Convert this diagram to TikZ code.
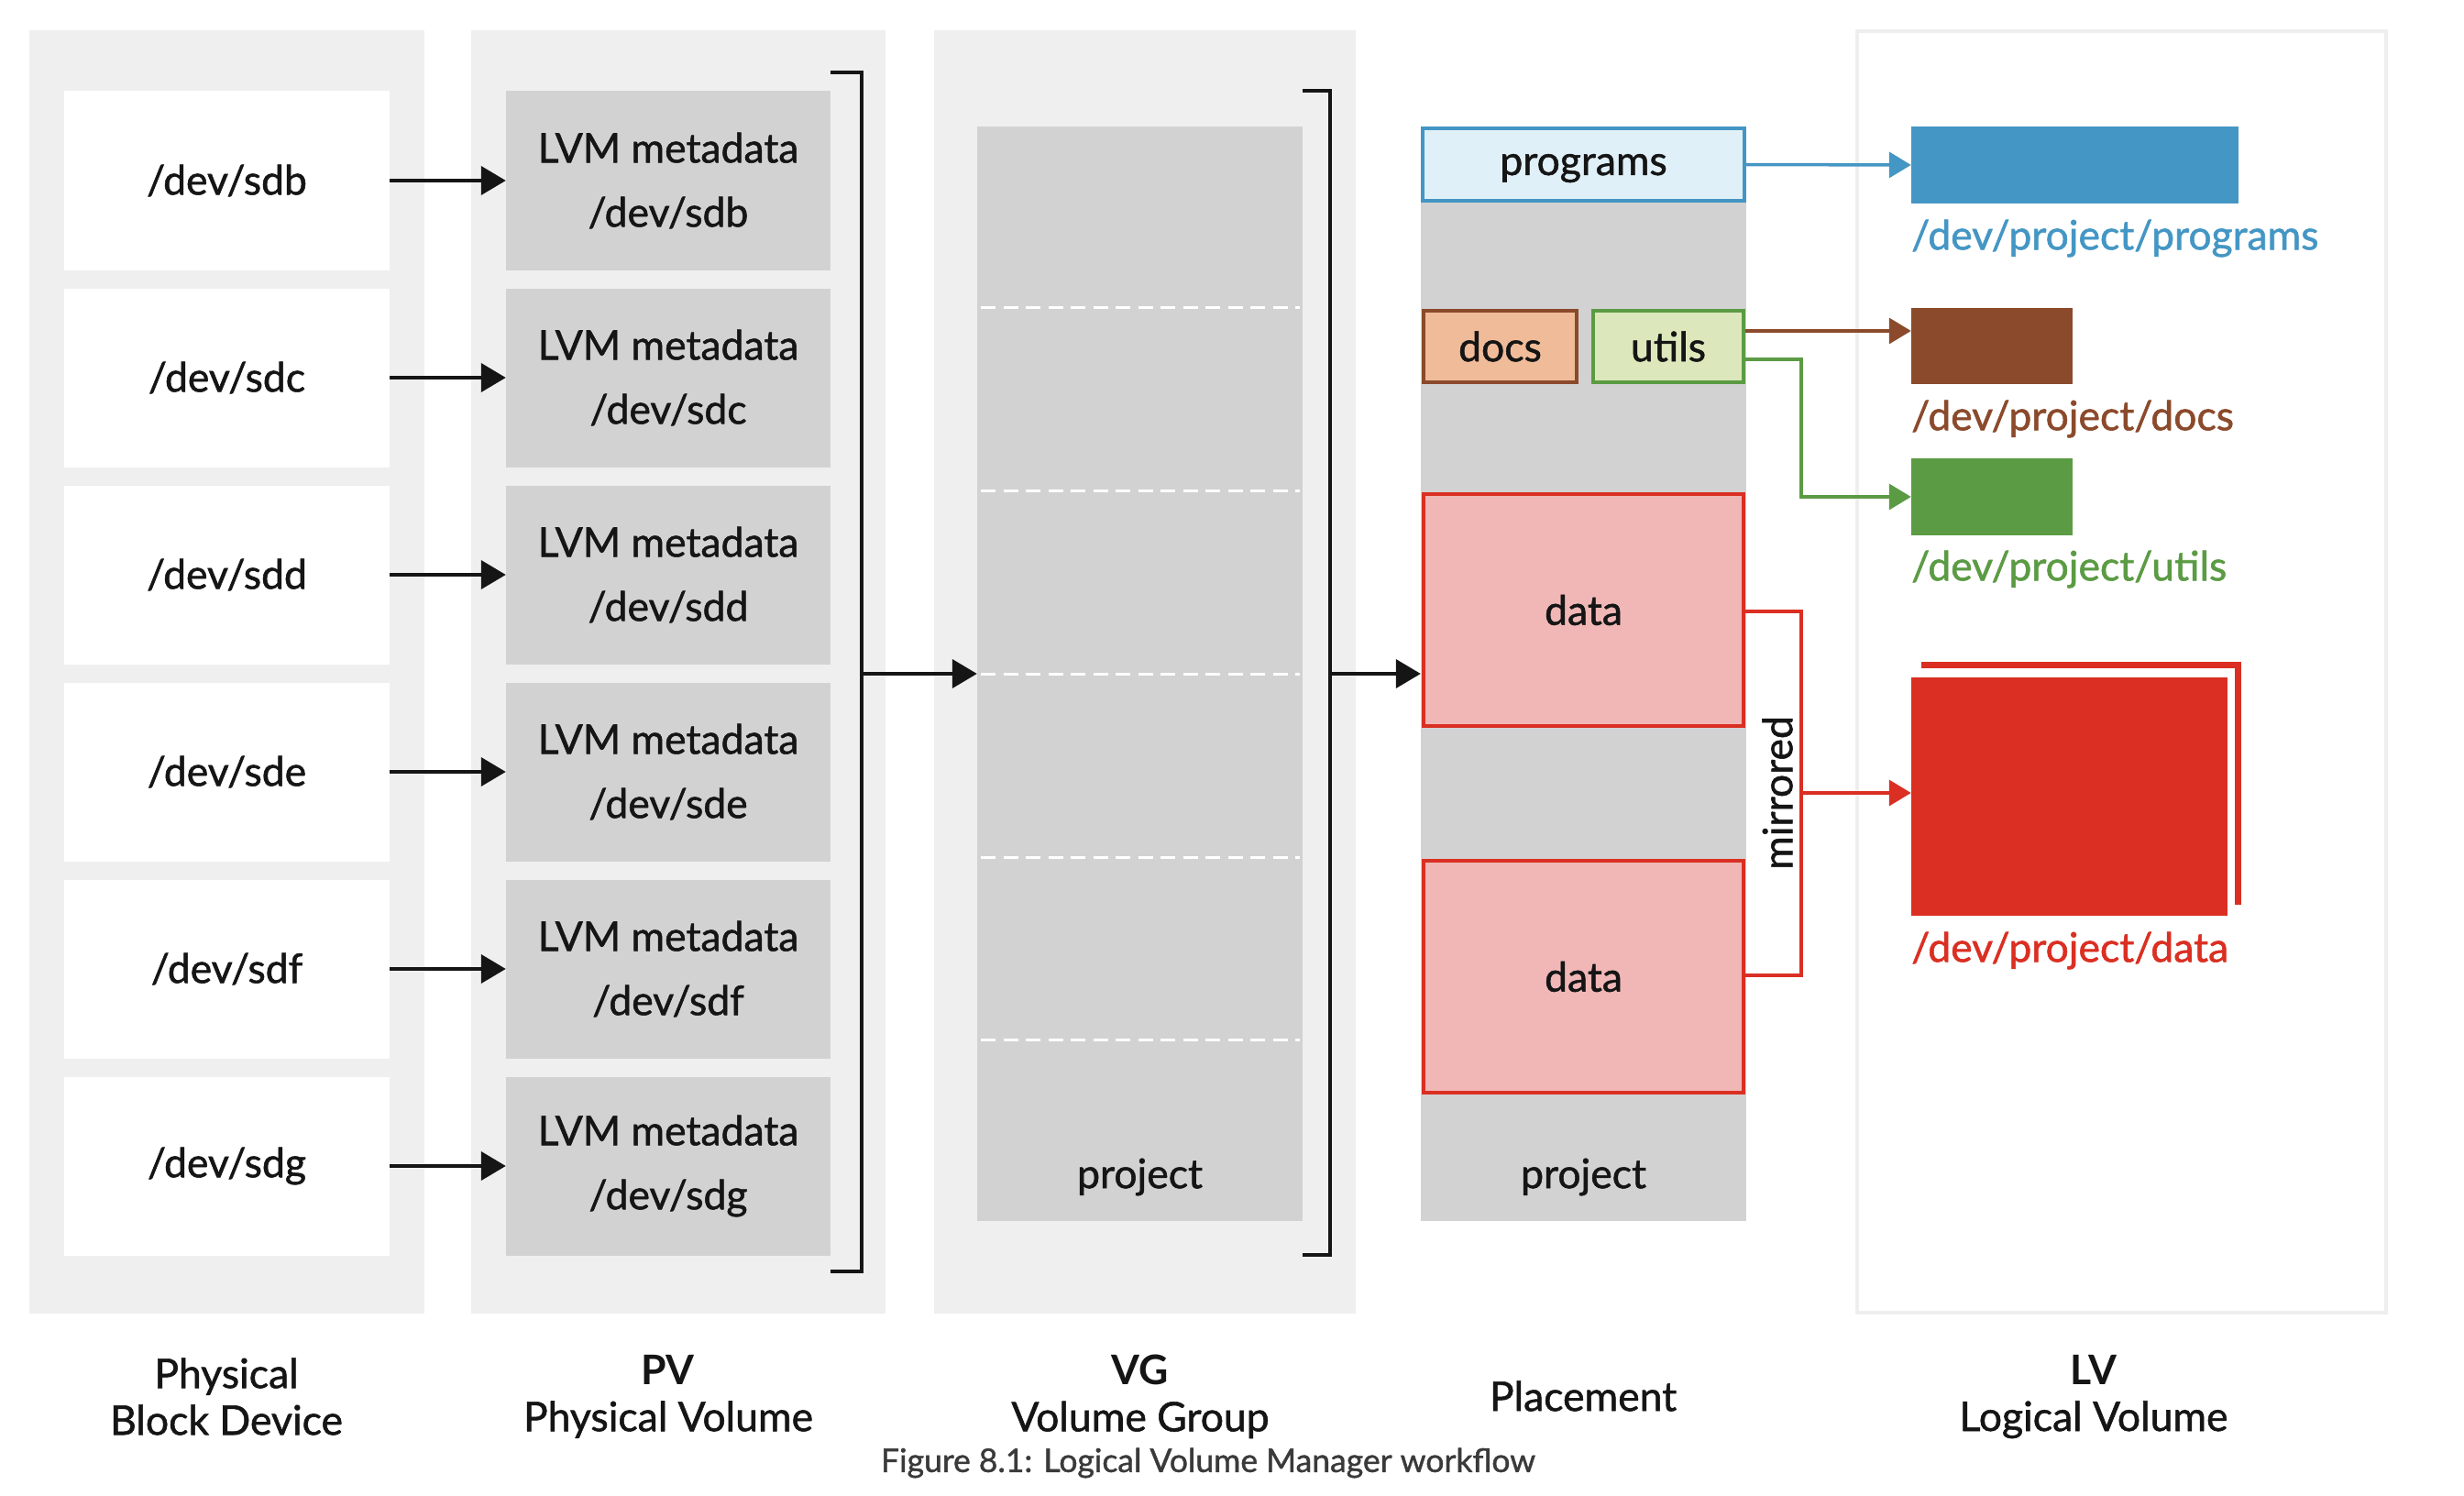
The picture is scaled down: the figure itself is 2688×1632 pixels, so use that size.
\documentclass[tikz,border=0pt]{standalone}
\usepackage{fontspec}
\setmainfont{Lato}[UprightFeatures={FakeBold=1.2}]
\usetikzlibrary{arrows.meta}
\definecolor{ink}{HTML}{151515}
\definecolor{bgcol}{HTML}{EFEFEF}
\definecolor{boxgray}{HTML}{D2D2D2}
\definecolor{progblue}{HTML}{4496C4}
\definecolor{progfill}{HTML}{E0F0F8}
\definecolor{docsbrown}{HTML}{8B4A2B}
\definecolor{docsfill}{HTML}{F0BB98}
\definecolor{utilsgreen}{HTML}{5B9B44}
\definecolor{utilsfill}{HTML}{DCE8BB}
\definecolor{datared}{HTML}{DA2F22}
\definecolor{datafill}{HTML}{F0B7B6}
\definecolor{lvborder}{HTML}{EEEEEE}
\definecolor{capgray}{HTML}{3A3A3A}
\newcommand\mainsz{\fontsize{44.5pt}{70pt}\selectfont}
\newcommand\labsz{\fontsize{44.5pt}{51pt}\selectfont}
\newcommand\capsz{\fontsize{35.5pt}{40pt}\selectfont}
\begin{document}
\begin{tikzpicture}[x=1pt,y=-1pt,
  panel/.style={fill=bgcol,draw=none,inner sep=0pt,minimum width=#1,minimum height=1400pt},
  devbox/.style={fill=white,draw=none,inner sep=0pt,minimum width=355pt,minimum height=195pt,font=\mainsz,text=ink},
  pvbox/.style={fill=boxgray,draw=none,inner sep=0pt,minimum width=354pt,minimum height=195pt,font=\mainsz,text=ink,align=center},
  column/.style={fill=boxgray,draw=none,inner sep=0pt,minimum width=355pt,minimum height=1194pt},
  conn/.style={line width=4pt,draw=ink,-{Triangle[length=27pt,width=31pt]}},
  bracketline/.style={line width=4pt,draw=ink},
  vgdash/.style={line width=3pt,draw=white,dash pattern=on 16pt off 8.5pt},
  lvpart/.style={line width=4pt,inner sep=0pt,font=\mainsz,text=ink},
  cconn/.style={line width=3.5pt,draw=#1,-{Triangle[length=24pt,width=28pt]}},
  cline/.style={line width=3.5pt,draw=#1},
  lvrect/.style={fill=#1,draw=none,inner sep=0pt},
  lvlabel/.style={anchor=west,inner sep=0pt,font=\mainsz,text=#1},
  collabel/.style={font=\labsz,text=ink,align=center,inner sep=0pt}
]
\useasboundingbox (0,0) rectangle (2688,1632);
\fill[white] (0,0) rectangle (2688,1632);

% panels
\node[panel=431pt] (pbd) at (247.5,733) {};
\node[panel=452pt] (ppv) at (740,733) {};
\node[panel=460pt] (pvg) at (1249,733) {};
\node[fill=white,draw=lvborder,line width=4pt,inner sep=0pt,minimum width=577pt,minimum height=1398pt] (plv) at (2314.5,733) {};

% block devices and PVs
\foreach \n/\d [count=\i from 0] in {b/sdb,c/sdc,d/sdd,e/sde,f/sdf,g/sdg}{
  \node[devbox] (bd\n) at (247.5,197+215*\i) {/dev/\d};
  \node[pvbox] (pv\n) at (729,197+215*\i) {LVM metadata\\/dev/\d};
  \draw[conn] (bd\n.east) -- (pv\n.west);
}

% PV bracket
\draw[bracketline] (906,79) -- (940,79) -- (940,1387) -- (906,1387);
\coordinate (pvbr) at (940,735);

% VG column
\node[column] (vg) at (1243.5,735) {};
\foreach \yy in {335,535,735,935,1134}{
  \draw[vgdash] (1070,\yy) -- (1418,\yy);
}
\node[font=\mainsz,text=ink] (vgproj) at (1243.5,1284) {project};
\draw[conn] (pvbr) -- (vg.west);

% VG bracket
\draw[bracketline] (1421,99) -- (1451,99) -- (1451,1369) -- (1421,1369);
\coordinate (vgbr) at (1451,735);

% Placement column
\node[column] (pl) at (1727.5,735) {};
\draw[conn] (vgbr) -- (pl.west);
\node[lvpart,fill=progfill,draw=progblue,minimum width=351pt,minimum height=79pt,text depth=0pt] (prog) at (1727.5,179.5) {programs};
\node[lvpart,fill=docsfill,draw=docsbrown,minimum width=167pt,minimum height=78pt] (docs) at (1636.5,378) {docs};
\node[lvpart,fill=utilsfill,draw=utilsgreen,minimum width=164pt,minimum height=78pt] (utils) at (1820,378) {utils};
\node[lvpart,fill=datafill,draw=datared,minimum width=349pt,minimum height=253pt] (data1) at (1727.5,665.5) {data};
\node[lvpart,fill=datafill,draw=datared,minimum width=349pt,minimum height=253pt] (data2) at (1727.5,1065.5) {data};
\node[font=\mainsz,text=ink] (plproj) at (1727.5,1284) {project};

% LV rectangles
\node[lvrect=progblue,minimum width=357pt,minimum height=84pt] (lvprog) at (2263.5,180) {};
\node[lvrect=docsbrown,minimum width=176pt,minimum height=83pt] (lvdocs) at (2173,377.5) {};
\node[lvrect=utilsgreen,minimum width=176pt,minimum height=84pt] (lvutils) at (2173,542) {};
\draw[line width=6.5pt,draw=datared] (2096,725.5) -- (2441.5,725.5) -- (2441.5,987);
\node[lvrect=datared,minimum width=345pt,minimum height=260pt] (lvdata) at (2257.5,869) {};

% LV labels
\node[lvlabel=progblue] (lprog) at (2085,260) {/dev/project/programs};
\node[lvlabel=docsbrown] (ldocs) at (2085,457) {/dev/project/docs};
\node[lvlabel=utilsgreen] (lutils) at (2085,621) {/dev/project/utils};
\node[lvlabel=datared] (ldata) at (2085,1037) {/dev/project/data};

% colored connectors
\draw[cconn=progblue] (prog.east) -- (lvprog.west);
\draw[cconn=docsbrown] (utils.east |- 0,361) -- (lvdocs.west |- 0,361);
\coordinate (ubend) at (1965,392);
\draw[cconn=utilsgreen] (utils.east |- ubend) -- (ubend) |- (lvutils.west);
\coordinate (mtop) at (1965,667);
\coordinate (mbot) at (1965,1064);
\coordinate (mmid) at (1965,865);
\draw[cline=datared] (data1.east |- mtop) -- (mtop) -- (mbot) -- (data2.east |- mbot);
\draw[cconn=datared] (mmid) -- (lvdata.west |- mmid);
\node[rotate=90,font=\mainsz,text=ink,inner sep=0pt] (mir) at (1939,865) {mirrored};

% column labels
\node[collabel] (tbd) at (247,1523.5) {Physical\\Block Device};
\node[collabel] (tpv) at (729,1523.5) {\textbf{PV}\\Physical Volume};
\node[collabel] (tvg) at (1244,1523.5) {\textbf{VG}\\Volume Group};
\node[collabel] (tpl) at (1727,1523) {Placement};
\node[collabel] (tlv) at (2284,1523.5) {\textbf{LV}\\Logical Volume};
\node[font=\capsz,text=capgray,inner sep=0pt] (cap) at (1318,1596) {Figure 8.1: Logical Volume Manager workflow};
\end{tikzpicture}
\end{document}
